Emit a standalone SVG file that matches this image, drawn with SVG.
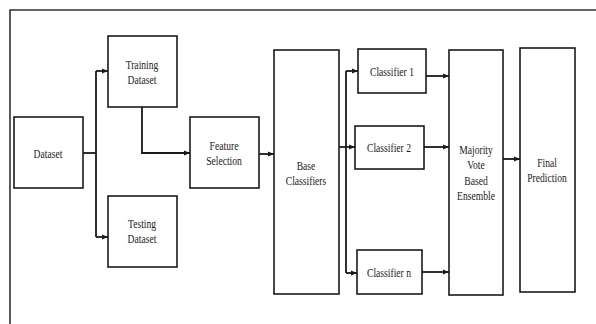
<svg xmlns="http://www.w3.org/2000/svg" width="596" height="324" viewBox="0 0 596 324">
<defs>
<marker id="ah" markerWidth="6" markerHeight="6" refX="6" refY="3" orient="auto" markerUnits="userSpaceOnUse">
<path d="M0,0.5 L6,3 L0,5.5 Z" fill="#1a1a1a"/>
</marker>
<style>
.b{fill:#fff;stroke:#1a1a1a;stroke-width:1.6}
.c{fill:none;stroke:#1a1a1a;stroke-width:1.8}
.t{font-family:"Liberation Serif","Times New Roman",serif;font-size:12px;fill:#222;text-anchor:middle}
</style>
</defs>
<rect width="596" height="324" fill="#fff"/>
<path d="M10,330 L10,10 L600,10" fill="none" stroke="#333" stroke-width="1.6"/>
<g id="connectors">
<path class="c" d="M83,153 H96"/>
<path class="c" d="M96,71 V237"/>
<path class="c" d="M96,71 H108" marker-end="url(#ah)"/>
<path class="c" d="M96,237 H108" marker-end="url(#ah)"/>
<path class="c" d="M142,107 V153 H190" marker-end="url(#ah)"/>
<path class="c" d="M259,154 H274" marker-end="url(#ah)"/>
<path class="c" d="M339,147 H346"/>
<path class="c" d="M346,71 V273"/>
<path class="c" d="M346,71 H358" marker-end="url(#ah)"/>
<path class="c" d="M346,147 H355" marker-end="url(#ah)"/>
<path class="c" d="M346,273 H357" marker-end="url(#ah)"/>
<path class="c" d="M426,76 H449" marker-end="url(#ah)"/>
<path class="c" d="M424,147 H449" marker-end="url(#ah)"/>
<path class="c" d="M422,272 H449" marker-end="url(#ah)"/>
<path class="c" d="M503,159 H520" marker-end="url(#ah)"/>
</g>
<g id="dataset"><rect class="b" x="14" y="117" width="69" height="71"/><text class="t" transform="translate(48,158) scale(0.8,1)">Dataset</text></g>
<g id="training"><rect class="b" x="108" y="36" width="69" height="71"/><text class="t" transform="translate(142,69) scale(0.8,1)">Training</text><text class="t" transform="translate(142,84) scale(0.8,1)">Dataset</text></g>
<g id="testing"><rect class="b" x="108" y="196" width="69" height="71"/><text class="t" transform="translate(142,228) scale(0.8,1)">Testing</text><text class="t" transform="translate(142,243) scale(0.8,1)">Dataset</text></g>
<g id="feature"><rect class="b" x="190" y="117" width="69" height="71"/><text class="t" transform="translate(224,150) scale(0.8,1)">Feature</text><text class="t" transform="translate(224,165) scale(0.8,1)">Selection</text></g>
<g id="base"><rect class="b" x="274" y="50" width="65" height="244"/><text class="t" transform="translate(306,170) scale(0.8,1)">Base</text><text class="t" transform="translate(306,185) scale(0.8,1)">Classifiers</text></g>
<g id="c1"><rect class="b" x="358" y="49" width="68" height="44"/><text class="t" transform="translate(392,76) scale(0.8,1)">Classifier 1</text></g>
<g id="c2"><rect class="b" x="355" y="126" width="69" height="43"/><text class="t" transform="translate(389,152) scale(0.8,1)">Classifier 2</text></g>
<g id="cn"><rect class="b" x="357" y="250" width="65" height="44"/><text class="t" transform="translate(389,277) scale(0.8,1)">Classifier n</text></g>
<g id="majority"><rect class="b" x="449" y="50" width="54" height="245"/><text class="t" transform="translate(476,154) scale(0.8,1)">Majority</text><text class="t" transform="translate(476,169) scale(0.8,1)">Vote</text><text class="t" transform="translate(476,185) scale(0.8,1)">Based</text><text class="t" transform="translate(476,200) scale(0.8,1)">Ensemble</text></g>
<g id="final"><rect class="b" x="520" y="48" width="55" height="244"/><text class="t" transform="translate(547,167) scale(0.8,1)">Final</text><text class="t" transform="translate(547,182) scale(0.8,1)">Prediction</text></g>
</svg>
